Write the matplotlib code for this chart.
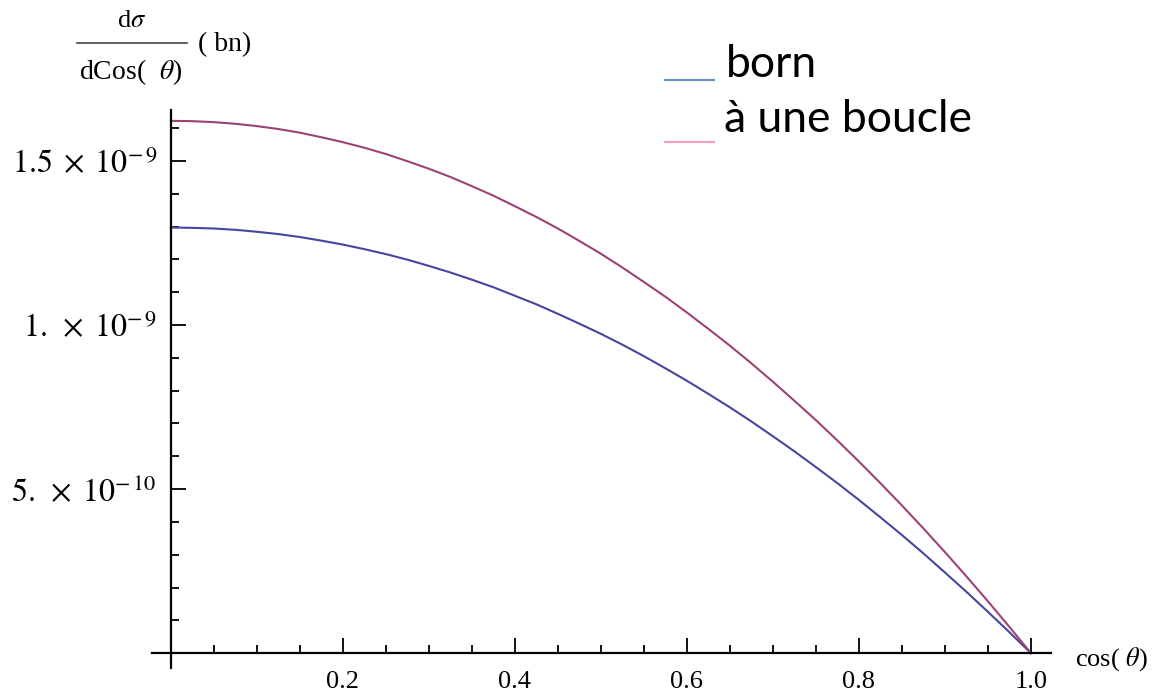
import numpy as np
import matplotlib.pyplot as plt
from matplotlib.ticker import MultipleLocator
from matplotlib.lines import Line2D

plt.rcParams['font.family'] = ['Liberation Serif', 'DejaVu Serif']
plt.rcParams['mathtext.fontset'] = 'stix'

# differential cross section (units of 1e-9 bn) versus cos(theta)
cos_theta = [0.000, 0.025, 0.050, 0.075, 0.100, 0.125, 0.150, 0.175, 0.200, 0.225,
             0.250, 0.275, 0.300, 0.325, 0.350, 0.375, 0.400, 0.425, 0.450, 0.475,
             0.500, 0.525, 0.550, 0.575, 0.600, 0.625, 0.650, 0.675, 0.700, 0.725,
             0.750, 0.775, 0.800, 0.825, 0.850, 0.875, 0.900, 0.925, 0.950, 0.975,
             1.000]
born = [1.297, 1.296, 1.294, 1.290, 1.284, 1.277, 1.268, 1.257, 1.245, 1.231,
        1.216, 1.199, 1.180, 1.160, 1.138, 1.115, 1.089, 1.063, 1.034, 1.004,
        0.973, 0.940, 0.905, 0.868, 0.830, 0.790, 0.749, 0.706, 0.661, 0.615,
        0.567, 0.518, 0.467, 0.414, 0.360, 0.304, 0.246, 0.187, 0.126, 0.064,
        0.000]
one_loop = [1.622, 1.621, 1.618, 1.613, 1.606, 1.597, 1.586, 1.572, 1.557, 1.540,
            1.521, 1.499, 1.476, 1.451, 1.423, 1.394, 1.362, 1.329, 1.294, 1.256,
            1.217, 1.175, 1.131, 1.086, 1.038, 0.988, 0.937, 0.883, 0.827, 0.769,
            0.710, 0.648, 0.584, 0.518, 0.450, 0.380, 0.308, 0.234, 0.158, 0.080,
            0.000]
unit = 1e-9

x_ticks = [0.2, 0.4, 0.6, 0.8, 1.0]
x_labels = ['0.2', '0.4', '0.6', '0.8', '1.0']
y_ticks = [5e-10, 1e-9, 1.5e-9]
y_labels = [r'$5.\;\times\;10^{-\,10}$', r'$1.\;\times\;10^{-\,9}$',
            r'$1.5\;\times\;10^{-\,9}$']

fig = plt.figure(figsize=(11.67, 6.98), dpi=100)
ax = fig.add_axes([0.1302, 0.0430, 0.7704, 0.7994])

ax.plot(cos_theta, np.array(born) * unit, color='#4646a0', lw=1.5)
ax.plot(cos_theta, np.array(one_loop) * unit, color='#9c4276', lw=1.5)

ax.set_xlim(-0.022, 1.0233)
ax.set_ylim(-0.045e-9, 1.655e-9)

# Mathematica-style axes crossing at the origin
for side in ['top', 'right']:
    ax.spines[side].set_visible(False)
ax.spines['left'].set_position(('data', 0))
ax.spines['bottom'].set_position(('data', 0))
for side in ['left', 'bottom']:
    ax.spines[side].set_linewidth(1.6)

ax.set_xticks(x_ticks)
ax.set_xticklabels(x_labels)
ax.set_yticks(y_ticks)
ax.set_yticklabels(y_labels)
ax.xaxis.set_minor_locator(MultipleLocator(0.05))
ax.yaxis.set_minor_locator(MultipleLocator(1e-10))
ax.tick_params(which='both', direction='in', width=1.3)
ax.tick_params(which='major', length=11)
ax.tick_params(which='minor', length=5.5)
ax.tick_params(axis='x', pad=13, labelsize=19)
ax.tick_params(axis='y', pad=10, labelsize=23)

fig.text(1075 / 1167, 1 - 659 / 698, r'cos( $\theta$)', fontsize=19,
         ha='left', va='center')

# y axis caption: d sigma / dCos(theta) drawn as a stacked fraction
fig.text(132 / 1167, 1 - 21 / 698, r'd$\sigma$', fontsize=19,
         ha='center', va='center')
fig.add_artist(Line2D([77 / 1167, 187 / 1167], [1 - 43 / 698, 1 - 43 / 698],
                      color='#444444', lw=1.2, transform=fig.transFigure))
fig.text(131 / 1167, 1 - 72 / 698, r'dCos(  $\theta$)', fontsize=20,
         ha='center', va='center')
fig.text(198 / 1167, 1 - 45 / 698, '( bn)', fontsize=20,
         ha='left', va='center')

# legend typed as text with coloured strokes
fig.add_artist(Line2D([665 / 1167, 714 / 1167], [1 - 80 / 698, 1 - 80 / 698],
                      color='#7090c8', lw=1.6, transform=fig.transFigure))
fig.add_artist(Line2D([665 / 1167, 714 / 1167], [1 - 142 / 698, 1 - 142 / 698],
                      color='#f4a0c0', lw=1.6, transform=fig.transFigure))
fig.text(726 / 1167, 1 - 77 / 698, 'born', fontsize=32, family='Lato',
         ha='left', va='baseline')
fig.text(724 / 1167, 1 - 132 / 698, 'à une boucle', fontsize=32, family='Lato',
         ha='left', va='baseline')

fig.savefig('out.png', dpi=100, facecolor='white')
